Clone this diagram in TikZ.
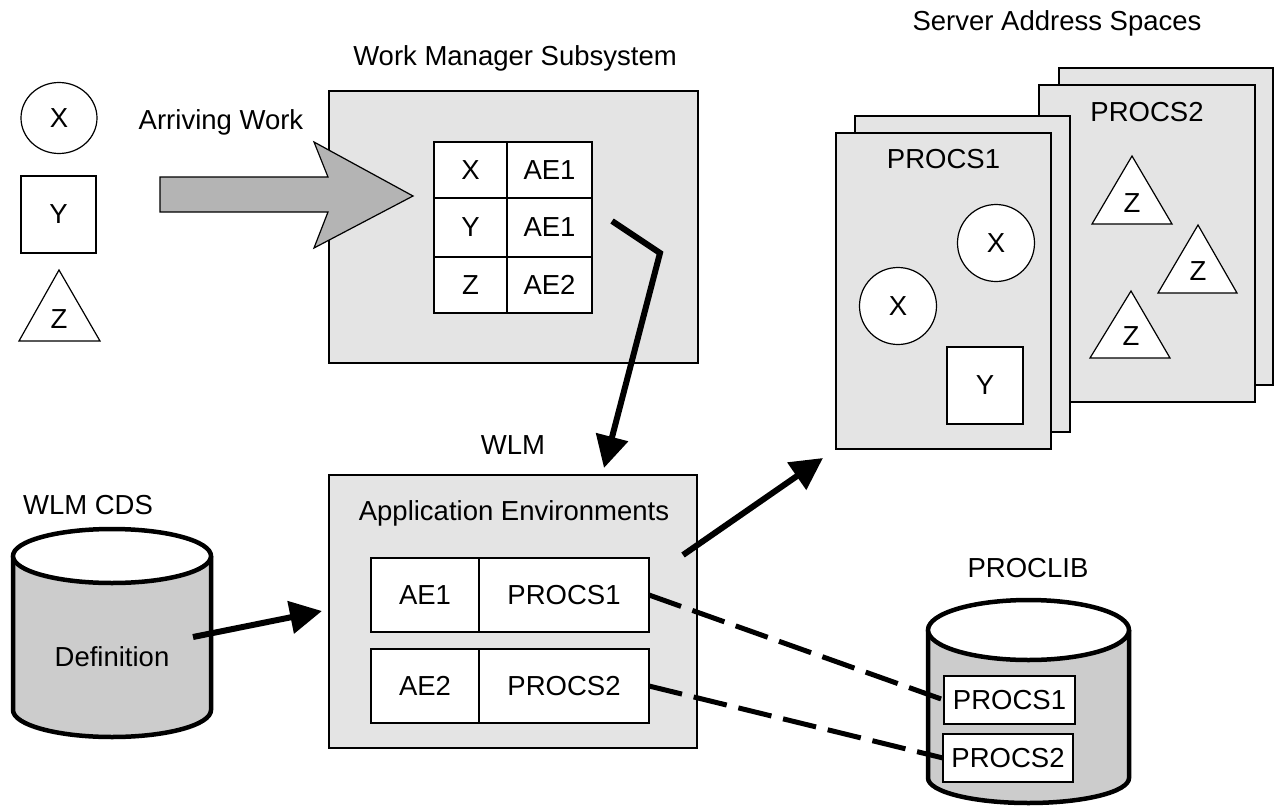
\documentclass[tikz,border=0pt]{standalone}
\usepackage{fontspec}
\setmainfont{Liberation Sans}
\usetikzlibrary{arrows.meta,shapes.geometric}
\definecolor{boxgray}{RGB}{228,228,228}
\definecolor{arrowgray}{RGB}{180,180,180}
\definecolor{cylgray}{RGB}{204,204,204}
\begin{document}
\begin{tikzpicture}[x=1pt,y=-1pt,
  font=\fontsize{27.5}{32}\selectfont,
  every node/.style={inner sep=0pt, outer sep=0pt},
  panel/.style={draw=black, fill=boxgray, line width=1.5pt},
  cell/.style={draw=black, fill=white, line width=1.5pt, inner sep=0pt},
  shapeline/.style={draw=black, fill=white, line width=1.2pt},
  thickarrow/.style={line width=6pt, -{Triangle[length=32pt,width=32pt]}},
  dashlink/.style={line width=5pt, dash pattern=on 34pt off 12pt},
  cyl/.style={draw=black, line width=4.5pt, fill=cylgray},
]
\useasboundingbox (0,0) rectangle (1275,806);

% ---------- legend ----------
\node[shapeline, ellipse, minimum width=76pt, minimum height=71pt] (lx) at (59,118) {X};
\node[shapeline, rectangle, minimum width=75pt, minimum height=77pt] (ly) at (58.5,214.5) {Y};
\draw[shapeline] (59,270) -- (100,341) -- (19,341) -- cycle;
\node (lz) at (59,319) {Z};

% ---------- work manager subsystem ----------
\node (wmlabel) at (515,58) {Work Manager Subsystem};
\node[panel, minimum width=369pt, minimum height=272pt] (wm) at (513.5,227) {};
\node[cell, minimum width=73pt, minimum height=56pt] (t1a) at (470.5,170) {X};
\node[cell, minimum width=85pt, minimum height=56pt] (t1b) at (549.5,170) {AE1};
\node[cell, minimum width=73pt, minimum height=59pt] (t2a) at (470.5,227.5) {Y};
\node[cell, minimum width=85pt, minimum height=59pt] (t2b) at (549.5,227.5) {AE1};
\node[cell, minimum width=73pt, minimum height=56pt] (t3a) at (470.5,285) {Z};
\node[cell, minimum width=85pt, minimum height=56pt] (t3b) at (549.5,285) {AE2};

% arriving work arrow
\node (arrlabel) at (221,122) {Arriving Work};
\filldraw[fill=arrowgray, draw=black, line width=1.2pt]
  (160,177) -- (328,177) -- (314,142) -- (413,196) -- (314,248) -- (328,212) -- (160,212) -- cycle;

% ---------- WLM ----------
\node (wlmlabel) at (513,445) {WLM};
\node[panel, minimum width=368pt, minimum height=273pt] (wlm) at (513,611.5) {};
\node (aelabel) at (514,513) {Application Environments};
\node[cell, minimum width=108pt, minimum height=74pt] (r1a) at (425,595) {AE1};
\node[cell, minimum width=170pt, minimum height=74pt] (r1b) at (564,595) {PROCS1};
\node[cell, minimum width=108pt, minimum height=74pt] (r2a) at (425,686) {AE2};
\node[cell, minimum width=170pt, minimum height=74pt] (r2b) at (564,686) {PROCS2};

% ---------- WLM CDS ----------
\node (cdslabel) at (88,505) {WLM CDS};
\filldraw[cyl] (13,556) -- (13,710) arc[start angle=180, end angle=0, x radius=99, y radius=27] -- (211,556);
\filldraw[cyl, fill=white] (112,556) ellipse[x radius=99, y radius=27];
\node (def) at (112,657) {Definition};

% ---------- server address spaces ----------
\node (srvlabel) at (1057,23) {Server Address Spaces};
\draw[panel] (1059,68) rectangle (1273,385);
\draw[panel] (1039,85) rectangle (1255,402);
\node (p2label) at (1147,112) {PROCS2};
\draw[panel] (855,116) rectangle (1070,432);
\draw[panel] (836,133) rectangle (1051,449);
\node (p1label) at (943.5,159) {PROCS1};
\node[shapeline, circle, minimum size=77pt] (sx1) at (996,243) {X};
\node[shapeline, circle, minimum size=77pt] (sx2) at (898,306) {X};
\node[shapeline, rectangle, minimum width=76pt, minimum height=77pt] (sy) at (985,385.5) {Y};
\draw[shapeline] (1132,156) -- (1172,224) -- (1092,224) -- cycle;
\node (sz1) at (1132,203) {Z};
\draw[shapeline] (1198,225) -- (1237,293) -- (1158,293) -- cycle;
\node (sz2) at (1198,271) {Z};
\draw[shapeline] (1131,291) -- (1170,358) -- (1090,358) -- cycle;
\node (sz3) at (1131,336) {Z};

% ---------- PROCLIB ----------
\node (pllabel) at (1028,568) {PROCLIB};
\filldraw[cyl] (928,630) -- (928,778) arc[start angle=180, end angle=0, x radius=100.5, y radius=25] -- (1129,630);
\filldraw[cyl, fill=white] (1028.5,630) ellipse[x radius=100.5, y radius=30];
\node[cell, minimum width=131pt, minimum height=48pt] (plp1) at (1009.5,700) {PROCS1};
\node[cell, minimum width=130pt, minimum height=48pt] (plp2) at (1008,758) {PROCS2};

% ---------- connectors ----------
\coordinate (defout) at (193,637);
\coordinate (wlmin) at (322,611);
\draw[thickarrow] (defout) -- (wlmin);

\coordinate (wmout) at (612,221);
\coordinate (bend) at (660,253);
\coordinate (wlmtop) at (604,468);
\draw[thickarrow] (wmout) -- (bend) -- (wlmtop);

\coordinate (wlmout) at (683,555);
\coordinate (srvin) at (823,458);
\draw[thickarrow] (wlmout) -- (srvin);

\draw[dashlink] (r1b.east) -- (plp1.west);
\draw[dashlink] (r2b.east) -- (plp2.west);
\end{tikzpicture}
\end{document}
